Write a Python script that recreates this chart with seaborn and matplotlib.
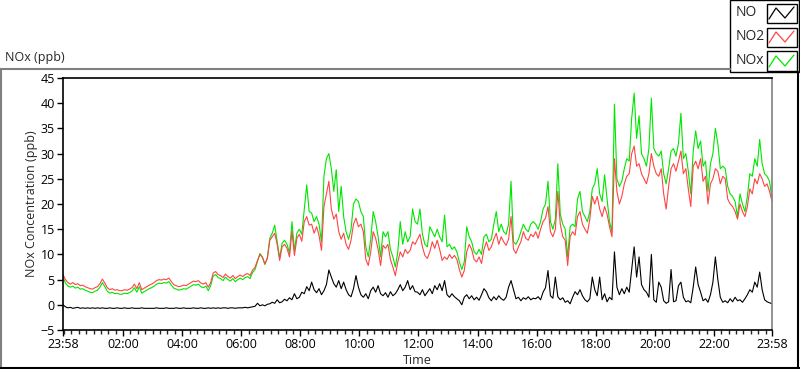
# NOx / NO2 / NO concentration chart (LabVIEW style waveform chart)

import pandas as pd
import matplotlib
matplotlib.use("Agg")
import matplotlib.pyplot as plt
import matplotlib.dates as mdates
from matplotlib.lines import Line2D
from matplotlib.patches import Rectangle
import seaborn as sns

# 5-minute samples from 23:58 to 23:58 the next day (one row = one hour)
no_ppb = [
    0.0, -0.4, -0.6, -0.5, -0.7, -0.6, -0.5, -0.7, -0.6, -0.7, -0.6, -0.7,
    -0.6, -0.7, -0.6, -0.7, -0.6, -0.7, -0.7, -0.6, -0.7, -0.7, -0.6, -0.7,
    -0.7, -0.6, -0.7, -0.7, -0.6, -0.7, -0.7, -0.7, -0.6, -0.7, -0.7, -0.7,
    -0.7, -0.7, -0.6, -0.7, -0.7, -0.7, -0.6, -0.7, -0.7, -0.7, -0.6, -0.7,
    -0.7, -0.6, -0.7, -0.7, -0.7, -0.6, -0.7, -0.7, -0.6, -0.7, -0.7, -0.6,
    -0.7, -0.6, -0.7, -0.6, -0.7, -0.6, -0.6, -0.7, -0.6, -0.6, -0.7, -0.6,
    -0.6, -0.6, -0.5, -0.6, -0.5, -0.4, -0.3, 0.3, -0.2, 0.0, -0.2, 0.1,
    0.2, 0.5, 0.3, 1.0, 0.4, 0.6, 1.1, 0.8, 1.4, 1.0, 2.2, 1.2,
    1.5, 2.5, 2.2, 3.6, 2.8, 4.5, 3.0, 2.4, 3.2, 2.0, 2.8, 4.0,
    6.9, 5.5, 4.2, 3.5, 4.8, 3.2, 4.5, 3.0, 2.0, 1.6, 3.2, 5.8,
    3.5, 2.0, 1.5, 2.2, 1.2, 2.8, 3.5, 2.5, 3.8, 2.2, 1.8, 2.4,
    1.5, 2.6, 1.8, 2.2, 3.0, 4.0, 2.8, 3.5, 4.8, 3.0, 3.8, 2.6,
    2.5, 2.0, 3.0, 1.8, 2.5, 3.2, 2.2, 3.8, 3.0, 4.2, 2.8, 4.8,
    2.0, 1.5, 2.2, 1.6, 1.2, 0.8, 0.0, 1.5, 2.0, 1.2, 1.8, 1.0,
    1.5, 0.9, 2.0, 3.2, 2.6, 1.4, 0.8, 1.6, 1.0, 1.8, 1.2, 0.9,
    1.5, 3.5, 4.8, 3.0, 1.2, 1.5, 0.8, 1.4, 1.1, 1.6, 1.0, 1.3,
    1.2, 1.6, 1.0, 2.5, 3.4, 6.8, 1.8, 1.3, 5.5, 1.6, 1.0, 1.4,
    0.5, 0.8, 0.2, 1.5, 2.6, 2.0, 3.0, 1.8, 1.0, 0.6, 1.2, 5.5,
    3.0, 1.8, 5.5, 1.0, 2.2, 0.6, 1.5, 1.0, 10.5, 3.5, 2.0, 3.2,
    2.2, 3.5, 2.5, 7.0, 11.5, 5.5, 9.5, 4.0, 3.0, 2.5, 1.5, 10.0,
    1.0, 0.5, 4.5, 3.5, 0.8, 0.3, 0.6, 7.0, 0.6, 0.8, 3.8, 4.5,
    1.5, 0.6, 0.8, 0.4, 3.5, 7.5, 4.0, 2.5, 0.8, 1.2, 0.5, 2.0,
    4.5, 9.5, 5.0, 1.5, 0.5, 0.8, 0.4, 1.2, 0.6, 1.5, 0.8, 1.0,
    0.5, 1.2, 2.0, 3.0, 2.5, 4.5, 3.5, 6.5, 3.0, 1.0, 0.6, 0.4,
    0.2,
]

no2_ppb = [
    6.0, 5.0, 4.4, 4.1, 4.4, 4.0, 4.2, 3.8, 3.9, 3.6, 3.4, 3.2,
    3.1, 3.4, 3.6, 4.2, 5.1, 4.3, 3.4, 3.0, 3.2, 2.9, 3.0, 2.8,
    2.8, 3.0, 2.9, 3.1, 3.4, 4.1, 3.2, 4.4, 3.0, 3.3, 3.6, 3.9,
    4.1, 4.4, 4.8, 5.0, 4.9, 5.1, 5.0, 5.3, 4.6, 4.0, 3.8, 3.6,
    3.7, 3.9, 3.8, 4.1, 4.4, 4.7, 4.6, 4.8, 4.3, 4.1, 4.4, 3.5,
    4.4, 6.3, 6.6, 6.0, 5.8, 5.4, 6.1, 5.6, 5.3, 5.8, 5.2, 5.6,
    5.9, 5.6, 6.0, 6.2, 5.8, 6.9, 7.4, 8.8, 10.0, 9.4, 8.1, 9.2,
    12.8, 13.5, 14.2, 12.0, 8.8, 11.5, 12.0, 11.2, 9.5, 14.6, 9.8, 13.2,
    14.0, 12.6, 16.5, 17.5, 15.8, 16.0, 14.2, 15.5, 13.8, 10.8, 19.5, 22.0,
    24.5, 19.0, 17.0, 18.0, 14.5, 13.0, 14.2, 12.0, 11.0, 12.8, 16.0, 17.2,
    15.5, 16.0, 14.5, 9.0, 7.8, 10.5, 14.5, 13.2, 11.0, 7.8, 11.8, 11.2,
    12.0, 9.0, 7.5, 5.8, 8.5, 10.5, 9.5, 11.0, 10.2, 10.8, 12.5, 12.0,
    13.0, 14.0, 11.5, 9.8, 9.2, 10.5, 12.5, 11.2, 12.8, 11.0, 8.8, 9.5,
    9.0, 10.0, 9.2, 9.8, 9.0, 7.0, 5.5, 6.8, 10.5, 12.0, 11.0, 9.0,
    8.5, 9.5, 8.2, 11.0, 12.5, 10.8, 11.5, 13.0, 14.2, 12.0, 13.5, 12.5,
    11.8, 13.0, 17.5, 11.0, 10.2, 11.5, 12.5, 14.5, 13.2, 12.8, 14.0, 13.5,
    14.5, 13.2, 15.0, 16.5, 17.2, 19.5, 14.5, 13.5, 15.0, 22.5, 16.0, 13.5,
    12.8, 7.8, 13.5, 14.5, 13.8, 17.5, 18.5, 16.0, 15.0, 14.2, 17.0, 21.5,
    20.0, 21.5, 19.0, 17.5, 19.5, 18.0, 15.5, 13.5, 29.0, 22.5, 20.0, 21.5,
    24.0, 25.5, 26.0, 30.0, 31.5, 27.5, 28.0, 26.0, 25.0, 24.0, 26.0, 30.0,
    27.5, 26.0, 25.5, 27.0, 22.0, 19.0, 23.5, 27.0, 28.0, 26.5, 28.5, 30.5,
    26.0, 27.0, 23.0, 19.5, 27.5, 28.5, 27.0, 29.0, 24.5, 25.5, 20.0, 24.0,
    25.0, 27.0, 26.5, 24.0, 25.5, 25.0, 21.0, 20.0, 19.5, 18.5, 17.0, 20.0,
    18.5, 17.5, 19.5, 23.0, 22.0, 25.0, 24.0, 26.0, 25.0, 23.5, 24.0, 22.5,
    20.5,
]

nox_ppb = [
    5.5, 4.3, 3.7, 3.5, 3.7, 3.3, 3.5, 3.1, 3.2, 2.9, 2.7, 2.5,
    2.4, 2.7, 2.9, 3.5, 4.4, 3.6, 2.7, 2.3, 2.5, 2.2, 2.3, 2.1,
    2.1, 2.3, 2.2, 2.4, 2.7, 3.4, 2.5, 3.6, 2.3, 2.6, 2.9, 3.2,
    3.4, 3.7, 4.1, 4.3, 4.2, 4.4, 4.3, 4.6, 3.9, 3.3, 3.1, 2.9,
    3.0, 3.2, 3.1, 3.4, 3.7, 4.0, 3.9, 4.1, 3.6, 3.4, 3.7, 2.8,
    3.8, 5.7, 6.0, 5.4, 5.2, 4.8, 5.5, 5.0, 4.7, 5.2, 4.6, 5.0,
    5.3, 5.0, 5.4, 5.6, 5.2, 6.4, 7.0, 8.6, 10.2, 9.5, 8.0, 9.3,
    13.2, 14.2, 15.8, 12.6, 9.3, 12.2, 12.8, 12.0, 10.3, 16.5, 10.8, 14.2,
    15.0, 14.0, 19.0, 23.8, 18.5, 18.2, 16.5, 17.5, 16.0, 12.5, 25.5, 29.0,
    30.0, 27.0, 22.5, 26.8, 18.5, 23.5, 17.5, 14.5, 13.0, 15.0, 20.0, 21.0,
    20.5, 18.5, 17.5, 11.5, 9.5, 13.0, 18.5, 16.5, 13.5, 9.5, 14.5, 13.5,
    14.5, 11.0, 9.5, 7.5, 10.5, 16.5, 12.0, 14.5, 12.5, 13.5, 19.0, 16.5,
    16.0, 19.0, 14.0, 12.0, 11.5, 15.5, 14.5, 13.5, 15.0, 13.5, 12.5, 17.8,
    11.5, 12.0, 11.0, 11.5, 10.5, 8.5, 7.0, 8.5, 15.5, 13.5, 12.5, 10.5,
    10.0, 11.0, 10.0, 13.5, 14.0, 12.5, 13.0, 16.0, 18.5, 14.5, 16.0, 14.5,
    14.0, 16.0, 24.5, 12.5, 12.0, 13.0, 14.5, 16.0, 15.0, 14.5, 16.0, 16.5,
    16.0, 15.0, 16.5, 19.0, 20.0, 24.5, 16.5, 15.0, 17.0, 28.0, 18.0, 16.0,
    15.0, 9.5, 15.5, 16.0, 15.5, 21.0, 22.5, 18.5, 17.5, 16.5, 18.5, 23.0,
    24.0, 27.0, 22.0, 20.5, 25.8, 21.0, 16.5, 14.5, 39.8, 25.0, 23.5, 24.5,
    27.0, 29.0, 28.5, 37.0, 42.0, 33.0, 37.5, 30.0, 29.0, 27.5, 31.0, 41.0,
    31.0, 30.0, 29.5, 30.5, 26.0, 24.0, 27.0, 30.5, 31.0, 29.5, 32.0, 38.0,
    29.0, 30.0, 26.5, 22.0, 30.5, 34.5, 31.0, 32.5, 27.5, 28.5, 22.5, 28.0,
    30.0, 35.0, 32.0, 27.0, 27.5, 27.0, 23.5, 22.0, 21.5, 20.5, 17.5, 22.0,
    20.0, 18.5, 21.5, 26.0, 25.5, 29.0, 27.5, 32.8, 28.0, 26.0, 25.5, 24.5,
    21.0,
]

series_names = ["NO", "NO2", "NOx"]
series_colors = {"NO": "black", "NO2": "#ff4444", "NOx": "#00e600"}
y_ticks = list(range(-5, 50, 5))

times = pd.date_range("2014-06-01 23:58", periods=len(no_ppb), freq="5min")
df = pd.DataFrame({"time": times, "NO": no_ppb, "NO2": no2_ppb, "NOx": nox_ppb})
long_df = df.melt(id_vars="time", var_name="series", value_name="ppb")

sns.set_style("white")
plt.rcParams["font.family"] = ["Open Sans", "DejaVu Sans"]

W, H = 800, 369
fig = plt.figure(figsize=(W / 100, H / 100), dpi=100)
ax = fig.add_axes([63 / W, 1 - 330 / H, (772 - 63) / W, (330 - 78) / H])

sns.lineplot(data=long_df, x="time", y="ppb", hue="series",
             hue_order=["NOx", "NO2", "NO"], palette=series_colors,
             estimator=None, linewidth=0.8, legend=False, ax=ax)

ax.set_xlim(times[0], times[-1])
ax.set_ylim(-5, 45)
ax.set_yticks(y_ticks)

major = [times[0]] + list(pd.date_range("2014-06-02 02:00", "2014-06-02 22:00", freq="2h")) + [times[-1]]
ax.set_xticks(major)
ax.xaxis.set_major_formatter(mdates.DateFormatter("%H:%M"))
ax.xaxis.set_minor_locator(mdates.MinuteLocator(byminute=[0, 15, 30, 45]))

ax.tick_params(axis="both", which="major", direction="out", length=4, width=1,
               labelsize=9, colors="black", bottom=True, left=True)
ax.tick_params(axis="y", which="major", pad=2)
ax.tick_params(axis="x", which="major", pad=2)
ax.tick_params(axis="x", which="minor", direction="out", length=3, width=1, bottom=True)
ax.set_xlabel("")
ax.set_ylabel("")

for side in ["left", "bottom", "top"]:
    ax.spines[side].set_color("black")
    ax.spines[side].set_linewidth(1.2)
ax.spines["right"].set_color("#808080")
ax.spines["right"].set_linewidth(1.2)

fig.text(32 / W, 1 - 204 / H, "NOx Concentration (ppb)", rotation=90,
         ha="center", va="center", fontsize=9)
fig.text(417 / W, 1 - 361 / H, "Time", ha="center", va="center", fontsize=9)
fig.text(5 / W, 1 - 58 / H, "NOx (ppb)", ha="left", va="center", fontsize=9)

# outer panel frame
def px_line(x0, y0, x1, y1, color, lw=1.0):
    fig.add_artist(Line2D([x0 / W, x1 / W], [1 - y0 / H, 1 - y1 / H],
                          color=color, lw=lw, transform=fig.transFigure))

px_line(0, 69, 730, 69, "#808080", 1.5)
px_line(0.8, 69, 0.8, 368, "#808080", 1.5)
px_line(0, 367.5, 800, 367.5, "black", 1.5)
px_line(798, 72, 798, 368, "black", 1.5)

# legend panel
fig.add_artist(Rectangle((730 / W, 1 - 72 / H), 69 / W, 72 / H, transform=fig.transFigure,
                         facecolor="white", edgecolor="black", lw=1.0))
for i, name in enumerate(series_names):
    yc = 13 + i * 24
    fig.text(736 / W, 1 - yc / H, name, ha="left", va="center", fontsize=10)
    fig.add_artist(Rectangle((767 / W, 1 - (yc + 9.5) / H), 30 / W, 19 / H,
                             transform=fig.transFigure, facecolor="white",
                             edgecolor="black", lw=1.0))
    zx = [769, 776, 785, 794]
    zy = [yc + 6, yc - 5, yc + 5, yc - 6]
    fig.add_artist(Line2D([v / W for v in zx], [1 - v / H for v in zy],
                          color=series_colors[name], lw=0.9, transform=fig.transFigure))

fig.savefig("out.png", dpi=100)
